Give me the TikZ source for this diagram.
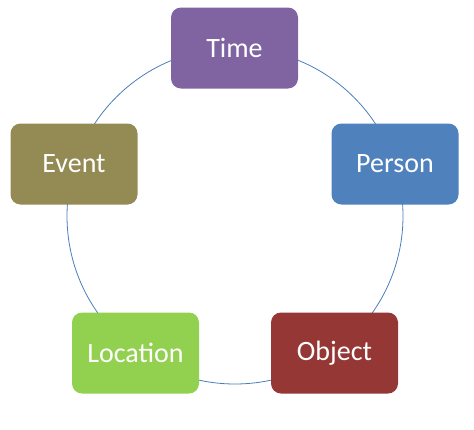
\documentclass[tikz,border=0pt]{standalone}
\usepackage{fontspec}
\setmainfont{Carlito}
\definecolor{cTime}{HTML}{8064A2}
\definecolor{cPerson}{HTML}{4F81BD}
\definecolor{cObject}{HTML}{953735}
\definecolor{cLocation}{HTML}{92D050}
\definecolor{cEvent}{HTML}{948A54}
\definecolor{cRing}{HTML}{4A7EBB}
\tikzset{
  box/.style={rounded corners=10pt, minimum width=127pt, minimum height=81pt,
    text=white, font=\fontsize{28}{32}\selectfont, inner sep=0pt},
  ring/.style={draw=cRing, line width=0.8pt}
}
\begin{document}
\begin{tikzpicture}[x=1pt,y=-1pt]
\useasboundingbox (0,0) rectangle (474,429);
\coordinate (c) at (235,216);
\draw[ring] (c) circle[radius=168];
\node[box, fill=cTime] (time) at (234.5,48) {Time};
\node[box, fill=cPerson] (person) at (395,164) {Person};
\node[box, fill=cObject] (object) at (334.5,353) {Object};
\node[box, fill=cLocation] (location) at (135.5,353) {Location};
\node[box, fill=cEvent] (event) at (74,164) {Event};
\end{tikzpicture}
\end{document}
